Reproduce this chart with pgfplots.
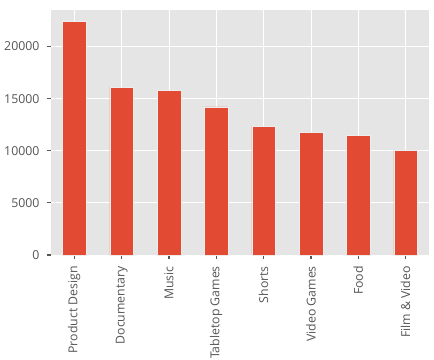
\documentclass[border=0pt]{standalone}
\usepackage{pgfplots}
\pgfplotsset{compat=1.18}
\usepackage{fontspec}
\setmainfont{Open Sans}
\definecolor{bgg}{HTML}{E5E5E5}
\definecolor{barred}{HTML}{E24A33}
\definecolor{tickg}{HTML}{555555}
\begin{document}
\begin{tikzpicture}
\useasboundingbox (-50.6pt,-104pt) rectangle (383.4pt,255pt);
\begin{axis}[
  at={(0,0)}, anchor=south west,
  scale only axis, width=378.7pt, height=245pt,
  xmin=-0.5, xmax=7.5, ymin=0, ymax=23510,
  axis background/.style={fill=bgg},
  axis line style={draw=none},
  xtick={0,...,7},
  xticklabels={Product Design,Documentary,Music,Tabletop Games,Shorts,Video Games,Food,Film \& Video},
  x tick label style={rotate=90, anchor=east, inner sep=0pt, xshift=-7pt},
  y tick label style={inner sep=0pt, xshift=-7pt},
  ytick={0,5000,10000,15000,20000},
  scaled y ticks=false,
  /pgf/number format/assume math mode=true,
  yticklabel style={/pgf/number format/fixed, /pgf/number format/1000 sep={}},
  tick label style={font=\fontsize{12.3}{14}\selectfont, text=tickg},
  tick align=outside, tick pos=left,
  major tick length=4pt,
  every tick/.style={draw=tickg, line width=1.2pt},
  xmajorgrids, ymajorgrids,
  major grid style={white, line width=0.8pt},
]
\addplot[ybar, bar width=0.5, fill=barred, draw=white!93!black, line width=0.5pt] coordinates {
(0,22390) (1,16116) (2,15830) (3,14205) (4,12357) (5,11785) (6,11497) (7,10064)
};
\end{axis}
\end{tikzpicture}
\end{document}
